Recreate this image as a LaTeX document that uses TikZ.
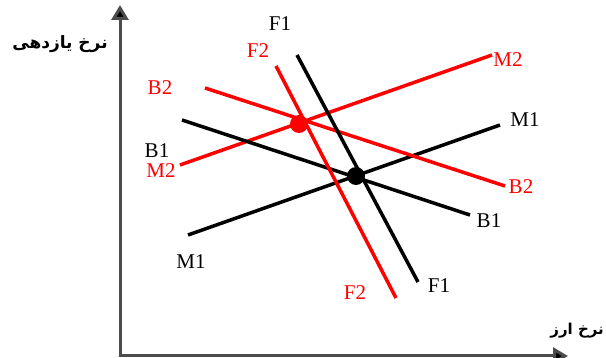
\documentclass[tikz,border=0pt]{standalone}
\usepackage{fontspec}
\setmainfont{Liberation Serif}
\newfontfamily\arabicfont[Script=Arabic]{DejaVu Sans}
\TeXXeTstate=1
\usetikzlibrary{arrows.meta}
\begin{document}
\begin{tikzpicture}[x=1pt,y=-1pt,
  curve/.style={line width=3.5pt},
  blk/.style={curve,black},
  redl/.style={curve,red},
  lab/.style={font=\fontsize{21}{21}\selectfont,inner sep=0pt},
  rlab/.style={lab,text=red},
  axis/.style={line width=3pt,draw=black!70,-{Triangle[width=17pt,length=15pt,fill=black]}},
  dot/.style={circle,inner sep=0pt,minimum size=18pt},
  fa/.style={font=\arabicfont\bfseries\fontsize{17}{17}\selectfont,inner sep=0pt}
]
\useasboundingbox (0,0) rectangle (606,358);
% axes
\coordinate (O) at (120,356);
\coordinate (Ytop) at (120,5);
\coordinate (Xend) at (568,356);
\draw[axis] (O) -- (Ytop);
\draw[axis] ([xshift=-1.5pt]O) -- (Xend);
\node[fa] (ylab) at (60,44) {\beginR نرخ یازدهی\endR};
\node[fa,font=\arabicfont\bfseries\fontsize{15}{15}\selectfont,anchor=east] (xlab) at (604,331) {\beginR نرخ ارز\endR};
% endpoints
\coordinate (M1a) at (188,235); \coordinate (M1b) at (500,125);
\coordinate (M2a) at (180,165); \coordinate (M2b) at (492,55);
\coordinate (B1a) at (182,120); \coordinate (B1b) at (470,215);
\coordinate (B2a) at (205,88);  \coordinate (B2b) at (505,186);
\coordinate (F1a) at (297,55);  \coordinate (F1b) at (418,282);
\coordinate (F2a) at (276,66);  \coordinate (F2b) at (396,298);
\draw[blk] (M1a) -- (M1b);
\draw[redl] (M2a) -- (M2b);
\draw[blk] (B1a) -- (B1b);
\draw[redl] (B2a) -- (B2b);
\draw[blk] (F1a) -- (F1b);
\draw[redl] (F2a) -- (F2b);
% dots
\node[dot,fill=red] (E2) at (299,124) {};
\node[dot,fill=black] (E1) at (356,176) {};
% labels
\node[lab] (lM1a) at (191,262) {M1};
\node[lab] (lM1b) at (525,120) {M1};
\node[rlab] (lM2a) at (161,171) {M2};
\node[rlab] (lM2b) at (508,60) {M2};
\node[lab] (lB1a) at (157,151) {B1};
\node[lab] (lB1b) at (489,221) {B1};
\node[rlab] (lB2a) at (160,88) {B2};
\node[rlab] (lB2b) at (521,187) {B2};
\node[lab] (lF1a) at (280,24) {F1};
\node[lab] (lF1b) at (439,286) {F1};
\node[rlab] (lF2a) at (258,51) {F2};
\node[rlab] (lF2b) at (355,293) {F2};
\end{tikzpicture}
\end{document}
